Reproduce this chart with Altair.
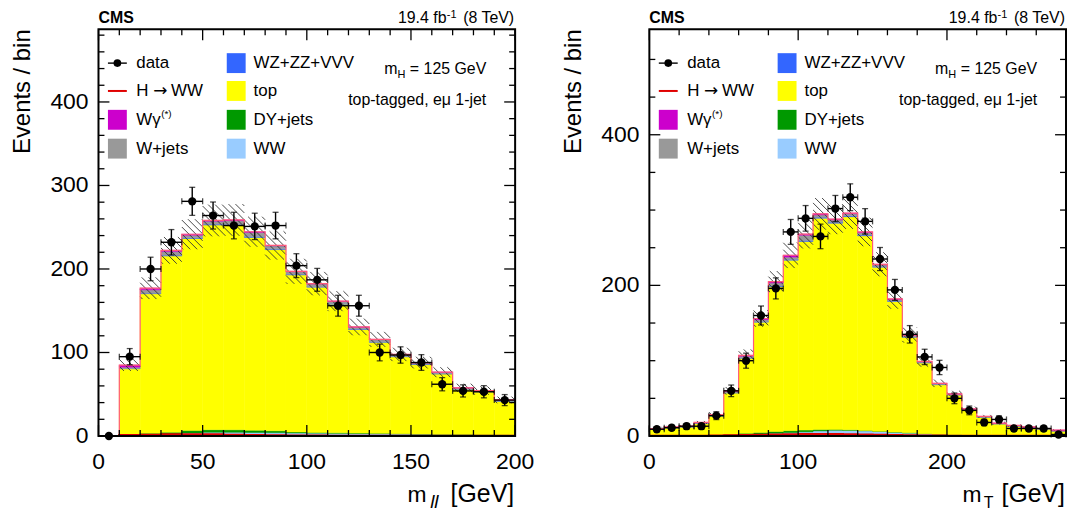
import altair as alt
import pandas as pd
import numpy as np

FONT = "Liberation Sans"
W, H = 419, 409

# ---------------- m_ll panel (left) ----------------
mll_lo = [0, 10, 20, 30, 40, 50, 60, 70, 80, 90, 100, 110, 120, 130, 140, 150, 160, 170, 180, 190]
mll_data = [0, 95, 200, 232, 281, 264, 252, 251, 252, 204, 187, 156, 156, 100, 97, 88, 62, 54, 53, 43]
mll_err = [0, 9.7, 14.1, 15.2, 16.8, 16.2, 15.9, 15.8, 15.9, 14.3, 13.7, 12.5, 12.5, 10.0, 9.8, 9.4, 7.9, 7.3, 7.3, 6.6]
mll_ww = [0, 1.5, 1.8, 2.5, 3.5, 4.4, 4.4, 4.2, 4.0, 3.6, 3.4, 3.2, 3.0, 2.8, 2.5, 2.2, 2.0, 1.8, 1.6, 1.4]
mll_dy = [0, 1.0, 1.6, 2.0, 3.0, 3.2, 3.0, 2.6, 2.2, 1.2, 0.8, 0.6, 0.5, 0.4, 0.3, 0.3, 0.2, 0.2, 0.2, 0.2]
mll_top = [0, 78, 167, 211, 230, 245, 245, 231, 217, 188, 174, 154, 124, 109, 92, 83, 72, 54, 51, 40]
mll_vv = [0, 0.4, 0.6, 0.8, 0.9, 1.0, 1.0, 1.0, 0.9, 0.9, 0.8, 0.8, 0.7, 0.7, 0.6, 0.6, 0.5, 0.5, 0.4, 0.4]
mll_wjets = [0, 1.5, 4.0, 4.5, 3.0, 3.5, 4.5, 5.0, 3.5, 3.0, 3.0, 2.5, 2.0, 2.5, 2.0, 1.5, 1.5, 1.0, 1.0, 1.0]
mll_wg = [0, 2.5, 2.0, 1.5, 1.2, 1.0, 0.8, 0.8, 0.6, 0.5, 0.5, 0.4, 0.4, 0.3, 0.3, 0.3, 0.2, 0.2, 0.2, 0.2]
mll_hww = [0, 1.0, 1.5, 2.0, 2.0, 2.0, 1.5, 1.0, 0.8, 0.5, 0.4, 0.3, 0.3, 0.2, 0.2, 0.2, 0.1, 0.1, 0.1, 0.1]
mll_unc = [0, 7, 13, 16, 18, 19, 19, 18, 17, 15, 14, 12, 10, 9, 8, 7, 6, 5, 5, 4]
mll_xlabels = [0, 50, 100, 150, 200]
mll_xminor = [10, 20, 30, 40, 60, 70, 80, 90, 110, 120, 130, 140, 160, 170, 180, 190]
mll_ylabels = [0, 100, 200, 300, 400]
mll_yminor = [20, 40, 60, 80, 120, 140, 160, 180, 220, 240, 260, 280, 320, 340, 360, 380, 420, 440, 460, 480]

# ---------------- m_T panel (right) ----------------
mt_lo = [0, 10, 20, 30, 40, 50, 60, 70, 80, 90, 100, 110, 120, 130, 140, 150, 160, 170, 180, 190,
         200, 210, 220, 230, 240, 250, 260, 270]
mt_data = [9, 11, 13, 13, 27, 60, 100, 160, 196, 271, 289, 265, 302, 317, 285, 235, 194, 135, 105, 91,
           50, 34, 18, 22, 10, 10, 10, 2]
mt_err = [3.0, 3.3, 3.6, 3.6, 5.2, 7.7, 10.0, 12.6, 14.0, 16.5, 17.0, 16.3, 17.4, 17.8, 16.9, 15.3, 13.9, 11.6,
          10.2, 9.5, 7.1, 5.8, 4.2, 4.7, 3.2, 3.2, 3.2, 1.4]
mt_ww = [0.3, 0.3, 0.4, 0.5, 0.8, 1.2, 2.0, 2.8, 3.6, 4.5, 5.5, 6.8, 7.6, 7.4, 6.8, 6.0, 5.0, 4.0, 3.0, 2.2,
         1.6, 1.2, 0.9, 0.7, 0.5, 0.4, 0.3, 0.3]
mt_dy = [0.2, 0.2, 0.3, 0.4, 0.6, 1.2, 1.6, 2.0, 2.4, 2.6, 2.4, 1.8, 1.2, 0.8, 0.5, 0.3, 0.2, 0.2, 0.1, 0.1,
         0.1, 0.1, 0.1, 0.1, 0.1, 0.1, 0.1, 0.1]
mt_top = [8.4, 10.4, 11.2, 15.5, 25.0, 54.7, 99.6, 146.4, 192.2, 226.3, 250.4, 280.6, 273.7, 283.0, 258.5, 217.8,
          173.5, 126.9, 93.8, 65.7, 52.7, 33.4, 24.0, 15.2, 12.5, 10.8, 8.9, 6.2]
mt_vv = [0.1, 0.1, 0.1, 0.2, 0.3, 0.4, 0.6, 0.8, 1.0, 1.1, 1.2, 1.3, 1.3, 1.3, 1.2, 1.1, 1.0, 0.8, 0.6, 0.5,
         0.4, 0.3, 0.2, 0.2, 0.2, 0.1, 0.1, 0.1]
mt_wjets = [0.5, 0.5, 0.5, 0.8, 1.0, 1.5, 2.0, 2.5, 4.0, 3.0, 7.0, 3.0, 3.0, 2.5, 3.0, 2.0, 1.5, 1.5, 1.0, 1.0,
            0.8, 0.6, 0.5, 0.5, 0.4, 0.3, 0.3, 0.3]
mt_wg = [0.5, 0.5, 0.5, 0.6, 0.8, 1.0, 1.2, 1.5, 1.8, 2.5, 1.5, 1.5, 1.2, 1.0, 1.0, 0.8, 0.8, 0.6, 0.5, 0.5,
         0.4, 0.4, 0.3, 0.3, 0.3, 0.3, 0.3, 1.0]
mt_hww = [0.1, 0.1, 0.2, 0.3, 0.5, 0.8, 1.2, 1.6, 2.0, 2.2, 2.4, 2.5, 2.4, 2.2, 2.0, 1.6, 1.2, 0.9, 0.6, 0.4,
          0.3, 0.2, 0.2, 0.1, 0.1, 0.1, 0.1, 0.1]
mt_unc = [1.5, 1.5, 1.5, 2, 3, 5, 8, 11, 14, 17, 19, 21, 20, 21, 19, 16, 13, 10, 7, 5, 4, 3, 2, 2, 1.5, 1.5, 1.2, 1]
mt_xlabels = [0, 100, 200]
mt_xminor = [20, 40, 60, 80, 120, 140, 160, 180, 220, 240, 260]
mt_ylabels = [0, 200, 400]
mt_yminor = [50, 100, 150, 250, 300, 350, 450, 500]

# ---------------- legend / labels ----------------
comp_names = ["WW", "DY+jets", "top", "WZ+ZZ+VVV", "W+jets", "Wγ(*)"]
comp_colors = ["#99ccff", "#009900", "#ffff00", "#3366ff", "#999999", "#cc00cc"]
legend_col2 = ["WZ+ZZ+VVV", "top", "DY+jets", "WW"]
legend_col2_colors = ["#3366ff", "#ffff00", "#009900", "#99ccff"]
y_title = "Events / bin"

dummy = pd.DataFrame({"a": [0]})


def txt(s, x, y, size, align="left", baseline="alphabetic", weight="normal", style="normal", font=FONT, angle=0):
    return alt.Chart(dummy).mark_text(
        text=s, font=font, fontSize=size, align=align, baseline=baseline,
        fontWeight=weight, fontStyle=style, color="black", angle=angle
    ).encode(x=alt.value(x), y=alt.value(y))


def box(x0, x1, y0, y1, color):
    return alt.Chart(dummy).mark_rect(color=color).encode(
        x=alt.value(x0), x2=alt.value(x1), y=alt.value(y0), y2=alt.value(y1))


def panel(lo_list, data, err, comps, hww, unc, xmax, ymax, xmaj, xmin, ymaj, ymin, sub, sub_italic, sub_size,
          sub_right, m_right):
    xs = alt.Scale(domain=[0, xmax], nice=False, zero=False)
    ys = alt.Scale(domain=[0, ymax], nice=False, zero=False)
    lo = np.array(lo_list, float)
    hi = lo + 10.0
    rows = []
    base = np.zeros(len(lo))
    for name, vals in zip(comp_names, comps):
        v = np.array(vals, float)
        for i in range(len(lo)):
            if v[i] > 0:
                rows.append(dict(lo=lo[i], hi=hi[i], y0=base[i], y1=base[i] + v[i], comp=name))
        base = base + v
    total = base
    stack_df = pd.DataFrame(rows)
    cscale = alt.Scale(domain=comp_names, range=comp_colors)

    stack = alt.Chart(stack_df).mark_rect(clip=True, strokeWidth=0.5).encode(
        x=alt.X("lo:Q", scale=xs, axis=None),
        x2="hi:Q",
        y=alt.Y("y0:Q", scale=ys, axis=None),
        y2="y1:Q",
        fill=alt.Color("comp:N", scale=cscale, legend=None),
        stroke=alt.Color("comp:N", scale=cscale, legend=None),
    )

    # hatched uncertainty band (diagonal segments computed from the band)
    kx = W / xmax
    ky = H / ymax
    d = 7.0
    segs = []
    for i in range(len(lo)):
        if unc[i] <= 0:
            continue
        X0, X1 = lo[i] * kx, hi[i] * kx
        Ylo, Yhi = (total[i] - unc[i]) * ky, (total[i] + unc[i]) * ky
        kmin = int(np.floor((X0 + Ylo) / d))
        kmax = int(np.ceil((X1 + Yhi) / d))
        for k in range(kmin, kmax + 1):
            c = k * d
            xa = max(X0, c - Yhi)
            xb = min(X1, c - Ylo)
            if xb - xa > 0.3:
                segs.append(dict(x=xa / kx, x2=xb / kx, y=(c - xa) / ky, y2=(c - xb) / ky))
    hatch = alt.Chart(pd.DataFrame(segs)).mark_rule(color="#333333", strokeWidth=0.9, clip=True).encode(
        x=alt.X("x:Q", scale=xs, axis=None), x2="x2:Q",
        y=alt.Y("y:Q", scale=ys, axis=None), y2="y2:Q")

    out_df = pd.DataFrame({"x": list(lo) + [hi[-1]], "y": list(total) + [total[-1]]})
    outline = alt.Chart(out_df).mark_line(interpolate="step-after", color="#ff5a7a", strokeWidth=1.2,
                                          clip=True).encode(
        x=alt.X("x:Q", scale=xs, axis=None), y=alt.Y("y:Q", scale=ys, axis=None))

    h_df = pd.DataFrame({"x": list(lo) + [hi[-1]], "y": list(hww) + [hww[-1]]})
    hline = alt.Chart(h_df).mark_line(interpolate="step-after", color="#e00000", strokeWidth=2.2,
                                      clip=True).encode(
        x=alt.X("x:Q", scale=xs, axis=None), y=alt.Y("y:Q", scale=ys, axis=None))

    dd = pd.DataFrame({"c": lo + 5.0, "xl": lo, "xr": hi, "v": data, "e": err})
    dd["lo"] = dd["v"] - dd["e"]
    dd["hi"] = dd["v"] + dd["e"]
    de = dd[dd["e"] > 0]
    vbar = alt.Chart(de).mark_rule(color="black", strokeWidth=1.4).encode(
        x=alt.X("c:Q", scale=xs, axis=None), y=alt.Y("lo:Q", scale=ys, axis=None), y2="hi:Q")
    hbar = alt.Chart(de).mark_rule(color="black", strokeWidth=1.4).encode(
        x=alt.X("xl:Q", scale=xs, axis=None), x2="xr:Q", y=alt.Y("v:Q", scale=ys, axis=None))
    cap_top = alt.Chart(de).mark_tick(orient="horizontal", size=6, thickness=1.3, color="black").encode(
        x=alt.X("c:Q", scale=xs, axis=None), y=alt.Y("hi:Q", scale=ys, axis=None))
    cap_bot = alt.Chart(de).mark_tick(orient="horizontal", size=6, thickness=1.3, color="black").encode(
        x=alt.X("c:Q", scale=xs, axis=None), y=alt.Y("lo:Q", scale=ys, axis=None))
    cap_l = alt.Chart(de).mark_tick(orient="vertical", size=6, thickness=1.3, color="black").encode(
        x=alt.X("xl:Q", scale=xs, axis=None), y=alt.Y("v:Q", scale=ys, axis=None))
    cap_r = alt.Chart(de).mark_tick(orient="vertical", size=6, thickness=1.3, color="black").encode(
        x=alt.X("xr:Q", scale=xs, axis=None), y=alt.Y("v:Q", scale=ys, axis=None))
    pts = alt.Chart(dd).mark_circle(size=70, color="black", opacity=1).encode(
        x=alt.X("c:Q", scale=xs, axis=None), y=alt.Y("v:Q", scale=ys, axis=None))

    def ticks(vals, side, length):
        df = pd.DataFrame({"v": vals})
        m = alt.Chart(df).mark_rule(color="black", strokeWidth=1.3)
        if side == "bottom":
            return m.encode(x=alt.X("v:Q", scale=xs, axis=None), y=alt.value(H), y2=alt.value(H - length))
        if side == "top":
            return m.encode(x=alt.X("v:Q", scale=xs, axis=None), y=alt.value(0), y2=alt.value(length))
        if side == "left":
            return m.encode(y=alt.Y("v:Q", scale=ys, axis=None), x=alt.value(0), x2=alt.value(length))
        return m.encode(y=alt.Y("v:Q", scale=ys, axis=None), x=alt.value(W), x2=alt.value(W - length))

    tick_layers = []
    for side in ["bottom", "top"]:
        tick_layers += [ticks(xmaj, side, 11), ticks(xmin, side, 6)]
    for side in ["left", "right"]:
        tick_layers += [ticks(ymaj, side, 11), ticks(ymin, side, 6)]

    # tick labels
    xl_df = pd.DataFrame({"v": xmaj, "lab": [str(v) for v in xmaj]})
    xlab = alt.Chart(xl_df).mark_text(font=FONT, fontSize=23, baseline="top", align="center", color="black").encode(
        x=alt.X("v:Q", scale=xs, axis=None), y=alt.value(H + 15), text="lab:N")
    yl_df = pd.DataFrame({"v": ymaj, "lab": [str(v) for v in ymaj]})
    ylab = alt.Chart(yl_df).mark_text(font=FONT, fontSize=23, baseline="middle", align="right", color="black").encode(
        y=alt.Y("v:Q", scale=ys, axis=None), x=alt.value(-10), text="lab:N")

    frame = alt.Chart(dummy).mark_rect(filled=False, stroke="black", strokeWidth=2).encode(
        x=alt.value(0), x2=alt.value(W), y=alt.value(0), y2=alt.value(H))

    # header
    texts = [
        txt("CMS", 0, -6, 16, weight="bold"),
        txt(" (8 TeV)", 418, -6, 16, align="right"),
        txt("-1", 360, -11, 11, align="right"),
        txt("19.4 fb", 350, -6, 16, align="right"),
        txt(y_title, -69, 0, 24, align="right", angle=270),
    ]
    # legend
    rows_y = [34, 62, 91, 120]
    leg = []
    leg.append(alt.Chart(dummy).mark_rule(color="black", strokeWidth=1.4).encode(
        x=alt.value(9.5), x2=alt.value(28.5), y=alt.value(rows_y[0])))
    leg.append(alt.Chart(dummy).mark_circle(size=60, color="black", opacity=1).encode(
        x=alt.value(19), y=alt.value(rows_y[0])))
    leg.append(alt.Chart(dummy).mark_rule(color="#e00000", strokeWidth=2).encode(
        x=alt.value(9.5), x2=alt.value(28.5), y=alt.value(rows_y[1])))
    leg.append(box(9.5, 28.5, rows_y[2] - 10, rows_y[2] + 10, "#cc00cc"))
    leg.append(box(9.5, 28.5, rows_y[3] - 10, rows_y[3] + 10, "#999999"))
    leg.append(txt("data", 38, rows_y[0], 17, baseline="middle"))
    leg.append(txt("H", 38, rows_y[1], 17, baseline="middle"))
    leg.append(txt("→", 55, rows_y[1], 17, baseline="middle", font="DejaVu Sans"))
    leg.append(txt("WW", 73, rows_y[1], 17, baseline="middle"))
    leg.append(txt("Wγ", 38, rows_y[2], 17, baseline="middle"))
    leg.append(txt("(*)", 63, rows_y[2] - 6, 10, baseline="middle"))
    leg.append(txt("W+jets", 38, rows_y[3], 17, baseline="middle"))
    for i, lab in enumerate(legend_col2):
        leg.append(box(129, 148, rows_y[i] - 10, rows_y[i] + 10, legend_col2_colors[i]))
        leg.append(txt(lab, 156, rows_y[i], 17, baseline="middle"))
    # annotation
    ann = [
        txt(" = 125 GeV", 390, 45, 16, align="right"),
        txt("H", 308.6, 49, 11, align="right"),
        txt("m", 300.7, 45, 16, align="right"),
        txt("top-tagged, eμ 1-jet", 390, 76, 16, align="right"),
    ]
    # x title
    xt = [
        txt("[GeV]", 418, H + 66, 25, align="right"),
        txt(sub, sub_right, H + 72, sub_size, align="right", style="italic" if sub_italic else "normal"),
        txt("m", m_right, H + 66, 23, align="right"),
    ]

    layers = [stack, hatch, outline, hline] + tick_layers + [frame, vbar, hbar, cap_top, cap_bot, cap_l, cap_r, pts,
                                                           xlab, ylab] + texts + leg + ann + xt
    return alt.layer(*layers).properties(width=W, height=H)


left = panel(
    mll_lo, mll_data, mll_err, [mll_ww, mll_dy, mll_top, mll_vv, mll_wjets, mll_wg], mll_hww, mll_unc,
    200, 487, mll_xlabels, mll_xminor, mll_ylabels, mll_yminor,
    "ll", True, 19, 342, 330)

right = panel(
    mt_lo, mt_data, mt_err, [mt_ww, mt_dy, mt_top, mt_vv, mt_wjets, mt_wg], mt_hww, mt_unc,
    280, 540, mt_xlabels, mt_xminor, mt_ylabels, mt_yminor,
    "T", False, 16, 346, 334)

chart = alt.hconcat(left, right, spacing=27).configure_view(strokeWidth=0).properties(
    padding={"left": 3, "top": 0, "right": 0, "bottom": 0}, background="white")

chart.save("out.html", embed_options={"renderer": "svg", "actions": False})
